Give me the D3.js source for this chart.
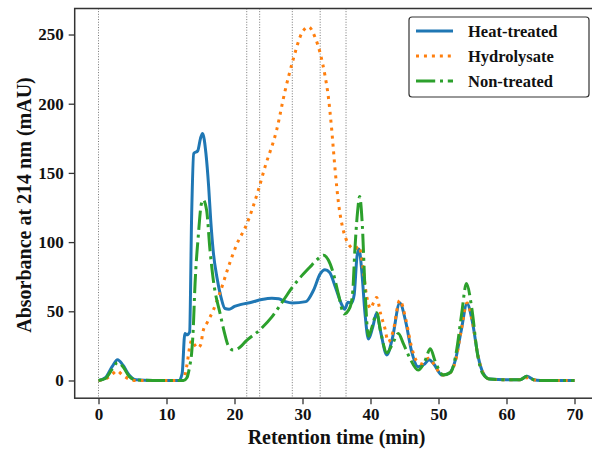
<!DOCTYPE html>
<html>
<head>
<meta charset="utf-8">
<script src="https://cdn.jsdelivr.net/npm/d3@7/dist/d3.min.js"></script>
</head>
<body style="margin:0">
<svg id="chart" width="592" height="450" font-family="Liberation Serif" style="display:block;background:#fff"></svg>
<script>
// ---- data ----
const seriesNames = ["Heat-treated", "Hydrolysate", "Non-treated"];
const seriesColors = ["#1f77b4", "#ff7f0e", "#2ca02c"];

const heatTime = [0,1,2,2.8,3.6,4.5,5.5,8,11.8,12.3,12.7,13.0,13.4,13.7,14.0,14.6,15.0,15.3,15.8,16.2,16.5,16.9,17.4,18.0,18.6,19.2,20,21,22.5,24,25.5,26.5,27.5,28.5,30.5,31.6,32.6,33.3,34.0,34.8,35.8,36.2,36.7,37.2,37.6,38.0,38.3,38.7,39.2,39.7,40.3,40.9,41.5,42.4,43.2,44.3,45.2,46,47,48,48.6,49.3,50.5,51.5,52.5,53.3,54.2,55,55.8,56.6,57.5,60,62,63,64,65,70];
const heatValues = [0,2,10,15,11,4,0.5,0,0,5,34,33,35,120,164,166,175,178.5,164,140,116,92,75,60.5,52,51.5,53.5,55,56.5,58.5,59.5,59,57,56,57,65,77,80,78,68,54.5,51.5,56.5,56,62,89,95,80,48,30,38,48.5,35,18.5,30,56,42,22,10,12,15,12,4,5,15,35,55.5,42,18,5,1,0.5,0.5,3,0.5,0,0];

const hydroTime = [0,1,2,2.7,3.5,4.5,5.5,8,12.2,12.6,13.0,13.4,13.7,14.1,14.6,15.0,15.4,16.0,16.9,17.9,19.1,20.3,21.8,23.5,24.5,26.2,27.4,28.6,29.9,30.9,31.8,32.6,33.3,33.8,34.3,34.8,35.3,36.0,36.6,37.2,37.7,38.3,38.8,39.4,40.0,40.5,40.9,41.5,42.1,42.6,43.3,44.3,45.2,46.0,46.8,47.5,48.5,49.3,50.5,51.5,52.5,53.3,54.2,55,55.8,56.6,57.5,60,62,63,64,65,70];
const hydroValues = [0,1,4.5,7,4,1,0,0,0,2,11,24,29,26,23.5,25.5,36,42,51,64,82,98,113,137.5,154.5,181,208.5,231.5,251,255.5,248.5,236.5,220.5,205,181,152,128,108.5,100,96,95,97,85,62,52,57,60,48,38,28,35,58,44,25,14,12,16,12,4,5,14,35,56,42,18,5,1,0.5,0.5,2,0.5,0,0];

const nonTime = [0,1,2,2.8,3.6,4.5,5.5,8,12.5,13.0,13.4,13.7,13.9,14.2,14.7,15.1,15.4,15.9,16.4,16.9,17.9,18.5,19.1,19.8,20.5,21.8,23.7,25.5,27.2,28.6,31.1,32.3,33.1,33.8,34.5,35.3,36.1,37.0,37.4,37.7,38.1,38.4,38.8,39.2,39.7,40.3,40.9,41.5,42.4,43.2,44.1,44.8,45.8,47,48,48.8,49.5,50.7,51.8,52.6,53.4,54.1,54.9,55.7,56.5,57.5,60,62,63,64,65,70];
const nonValues = [0,1.5,8,13,10,3,0.5,0,0,2,10,20,34,70,106,127,130.5,123,94,72,48,35,25,22,23,29,36.5,46,58,68,82,88,90.5,87,78,62,48,53,65,94,122,133,112,65,32,40,49,35,20,26,34,27,16,7.5,14,23,14,4,6,20,48,70,52,20,5,1,0.5,0.5,3,0.5,0,0];

const vLines = [0, 21.8, 23.7, 28.5, 32.6, 36.4];
const xTicks = [0, 10, 20, 30, 40, 50, 60, 70];
const yTicks = [0, 50, 100, 150, 200, 250];
const xLabel = "Retention time (min)";
const yLabel = "Absorbance at 214 nm (mAU)";

// ---- layout ----
const svg = d3.select("#chart");
const pL = 74.7, pR = 598.3, pT = 8.5, pB = 398.2;
const x = d3.scaleLinear().domain([-3.5, 73.5]).range([pL, pR]);
const y = d3.scaleLinear().domain([-12.8, 268.8]).range([pB, pT]);

function styleText(sel, size) {
  return sel.attr("font-family", "Liberation Serif")
    .style("font-family", '"Liberation Serif", "Times New Roman", Times, serif')
    .attr("font-weight", "bold").style("font-weight", "bold")
    .attr("font-size", size).style("font-size", size + "px")
    .attr("fill", "#111");
}

const defs = svg.append("defs");
defs.append("clipPath").attr("id", "clip").append("rect")
  .attr("x", pL).attr("y", pT).attr("width", pR - pL).attr("height", pB - pT);

const plot = svg.append("g").attr("clip-path", "url(#clip)");

// vertical dotted lines
plot.selectAll("line.vl").data(vLines).enter().append("line")
  .attr("class", "vl")
  .attr("x1", d => x(d)).attr("x2", d => x(d))
  .attr("y1", pT).attr("y2", pB)
  .attr("stroke", "#777").attr("stroke-width", 1)
  .attr("stroke-dasharray", "1,1.65");

const series = [
  { name: seriesNames[0], color: seriesColors[0], t: heatTime, v: heatValues, dash: null },
  { name: seriesNames[1], color: seriesColors[1], t: hydroTime, v: hydroValues, dash: "3,4.95" },
  { name: seriesNames[2], color: seriesColors[2], t: nonTime, v: nonValues, dash: "19.2,4.8,3,4.8" }
];

const line = d3.line().x(d => x(d[0])).y(d => y(d[1])).curve(d3.curveMonotoneX);

series.forEach(s => {
  const pts = s.t.map((t, i) => [t, s.v[i]]);
  plot.append("path").datum(pts)
    .attr("d", line)
    .attr("fill", "none")
    .attr("stroke", s.color)
    .attr("stroke-width", 3)
    .attr("stroke-linejoin", "round")
    .attr("stroke-dasharray", s.dash);
});

// axes
const xAxis = svg.append("g").attr("transform", `translate(0,${pB})`)
  .call(d3.axisBottom(x).tickValues(xTicks).tickSize(6).tickPadding(4).tickFormat(d3.format("d")));
const yAxis = svg.append("g").attr("transform", `translate(${pL},0)`)
  .call(d3.axisLeft(y).tickValues(yTicks).tickSize(6).tickPadding(5).tickFormat(d3.format("d")));
[xAxis, yAxis].forEach(a => {
  a.attr("font-family", "Liberation Serif");
  a.select(".domain").remove();
  a.selectAll(".tick line").attr("stroke", "#333").attr("stroke-width", 1.3);
  styleText(a.selectAll(".tick text"), 17);
});

// frame
svg.append("rect").attr("x", pL).attr("y", pT)
  .attr("width", pR - pL).attr("height", pB - pT)
  .attr("fill", "none").attr("stroke", "#333").attr("stroke-width", 1.5);

// axis labels
styleText(svg.append("text").attr("x", 336.5).attr("y", 444)
  .attr("text-anchor", "middle").text(xLabel), 20);
styleText(svg.append("text").attr("transform", `translate(31,205) rotate(-90)`)
  .attr("text-anchor", "middle").text(yLabel), 20);

// legend
const lg = svg.append("g");
lg.append("rect").attr("x", 409).attr("y", 17).attr("width", 180).attr("height", 80)
  .attr("rx", 3).attr("fill", "#fff").attr("stroke", "#333").attr("stroke-width", 1.2);
series.forEach((s, i) => {
  const yy = 31 + i * 25;
  lg.append("line").attr("x1", 416).attr("x2", 453).attr("y1", yy).attr("y2", yy)
    .attr("stroke", s.color).attr("stroke-width", 3).attr("stroke-dasharray", s.dash);
  styleText(lg.append("text").attr("x", 468).attr("y", yy + 5.5).text(s.name), 16.5);
});
</script>
</body>
</html>
